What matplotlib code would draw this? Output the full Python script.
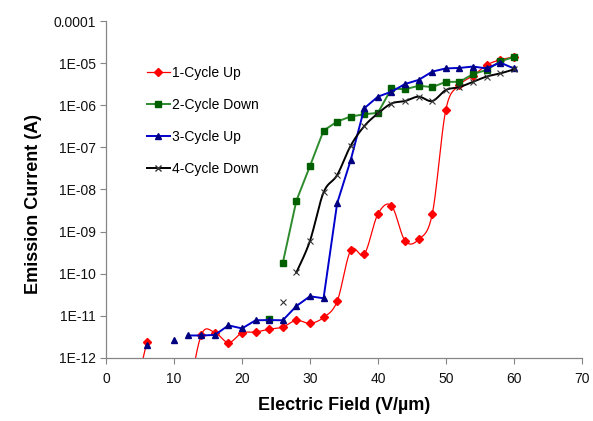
import numpy as np
import matplotlib
matplotlib.use('Agg')
import matplotlib.pyplot as plt
from matplotlib.lines import Line2D
from matplotlib.ticker import FuncFormatter, NullLocator

# data (field in V/um, current in A); nan = break in the line
field_red = [4, 6, 8, 10, 12, 14, 16, 18, 20, 22, 24, 26, 28, 30, 32, 34, 36, 38, 40, 42, 44, 46, 48, 50, 52, 54, 56, 58, 60]
cur_red = [1e-13, 2.4e-12, np.nan, np.nan, 1e-13, 3.5e-12, 4.0e-12, 2.3e-12, 3.9e-12, 4.1e-12, 4.8e-12, 5.4e-12,
           7.8e-12, 6.6e-12, 9.1e-12, 2.2e-11, 3.6e-10, 2.9e-10, 2.6e-9, 4.1e-9, 6.0e-10, 6.5e-10, 2.6e-9,
           7.9e-7, 3.0e-6, 5.0e-6, 9.0e-6, 1.2e-5, 1.4e-5]

field_green = [24, 25, 26, 28, 30, 32, 34, 36, 38, 40, 42, 44, 46, 48, 50, 52, 54, 56, 58, 60]
cur_green = [8.3e-12, np.nan, 1.8e-10, 5.4e-9, 3.6e-8, 2.5e-7, 4.1e-7, 5.4e-7, 6.1e-7, 6.6e-7, 2.5e-6, 2.4e-6,
             2.9e-6, 2.7e-6, 3.6e-6, 3.6e-6, 5.5e-6, 6.9e-6, 1.1e-5, 1.4e-5]

field_blue = [6, 8, 10, 11, 12, 14, 16, 18, 20, 22, 24, 26, 28, 30, 32, 34, 36, 38, 40, 42, 44, 46, 48, 50, 52, 54, 56, 58, 60]
cur_blue = [2.0e-12, np.nan, 2.7e-12, np.nan, 3.4e-12, 3.4e-12, 3.5e-12, 5.9e-12, 5.0e-12, 7.8e-12, 7.9e-12, 7.8e-12,
            1.7e-11, 2.9e-11, 2.6e-11, 4.7e-9, 5.0e-8, 8.5e-7, 1.6e-6, 2.1e-6, 3.2e-6, 4.0e-6, 6.3e-6, 7.5e-6,
            7.7e-6, 8.3e-6, 7.5e-6, 1.03e-5, 7.5e-6]

field_black = [26, 27, 28, 30, 32, 34, 36, 38, 40, 42, 44, 46, 48, 50, 52, 54, 56, 58, 60]
cur_black = [2.1e-11, np.nan, 1.07e-10, 6.0e-10, 8.5e-9, 2.2e-8, 1.1e-7, 3.2e-7, 6.4e-7, 1.1e-6, 1.26e-6, 1.6e-6,
             1.26e-6, 2.3e-6, 2.7e-6, 3.6e-6, 4.8e-6, 5.7e-6, 7.1e-6]

labels = ['1-Cycle Up', '2-Cycle Down', '3-Cycle Up', '4-Cycle Down']


def smooth(xs, ys, n=20):
    # Excel-style smoothed line: Catmull-Rom bezier in (x, log y), per unbroken run
    xs = np.asarray(xs, float); ly = np.log10(np.asarray(ys, float))
    out_x, out_y = [], []
    ok = ~np.isnan(ly)
    idx = np.where(ok)[0]
    runs = np.split(idx, np.where(np.diff(idx) > 1)[0] + 1)
    for r in runs:
        px, py = xs[r], ly[r]
        if len(r) < 2:
            continue
        for k in range(len(r) - 1):
            a, b = max(k - 1, 0), min(k + 2, len(r) - 1)
            c1 = (px[k] + (px[k + 1] - px[a]) / 6, py[k] + (py[k + 1] - py[a]) / 6)
            c2 = (px[k + 1] - (px[b] - px[k]) / 6, py[k + 1] - (py[b] - py[k]) / 6)
            t = np.linspace(0, 1, n)
            bx = (1-t)**3*px[k] + 3*(1-t)**2*t*c1[0] + 3*(1-t)*t**2*c2[0] + t**3*px[k+1]
            by = (1-t)**3*py[k] + 3*(1-t)**2*t*c1[1] + 3*(1-t)*t**2*c2[1] + t**3*py[k+1]
            out_x.extend(bx); out_y.extend(by)
        out_x.append(np.nan); out_y.append(np.nan)
    return np.array(out_x), 10 ** np.array(out_y)


plt.rcParams['font.family'] = ['Liberation Sans', 'DejaVu Sans']
fig = plt.figure(figsize=(5.93, 4.21), dpi=100)
ax = fig.add_axes([0.179, 0.150, 0.802, 0.800])

# 1-Cycle Up (smoothed, red)
sx, sy = smooth(field_red, cur_red)
ax.plot(sx, sy, '-', color='#ff0000', lw=0.9)
ax.plot(field_red, cur_red, 'D', color='#ff0000', ms=4, ls='none')
# 2-Cycle Down
ax.plot(field_green, cur_green, '-s', color='#2e8b2e', mfc='#006000', mec='#006000', ms=4.5, lw=1.4)
# 3-Cycle Up
ax.plot(field_blue, cur_blue, '-^', color='#0000cc', mfc='#000080', mec='#000080', ms=5, lw=1.4)
# 4-Cycle Down (smoothed, black)
sx, sy = smooth(field_black, cur_black)
ax.plot(sx, sy, '-', color='k', lw=1.4)
ax.plot(field_black, cur_black, 'x', color='#333333', ms=5, mew=0.8, ls='none')

ax.set_yscale('log')
ax.set_xlim(0, 70); ax.set_ylim(1e-12, 1e-4)
ax.set_xticks(range(0, 71, 10))
ax.set_yticks([10.0 ** e for e in range(-12, -3)])
ax.yaxis.set_minor_locator(NullLocator())
ax.yaxis.set_major_formatter(FuncFormatter(
    lambda v, p: '0.0001' if round(np.log10(v)) == -4 else f'1E-{-round(np.log10(v)):02d}'))
for s in ('top', 'right'):
    ax.spines[s].set_visible(False)
for s in ('left', 'bottom'):
    ax.spines[s].set_color('#868686'); ax.spines[s].set_linewidth(0.9)
ax.tick_params(axis='both', direction='out', length=4, color='#868686', labelsize=10, labelcolor='#111111')
ax.tick_params(axis='x', pad=6)
ax.set_xlabel('Electric Field (V/µm)', fontsize=13, fontweight='bold', labelpad=8)
ax.set_ylabel('Emission Current (A)', fontsize=13, fontweight='bold', labelpad=8)
ax.yaxis.set_label_coords(-0.135, 0.457)

handles = [
    Line2D([], [], color='#ff0000', lw=0.9, marker='D', ms=4),
    Line2D([], [], color='#2e8b2e', lw=1.4, marker='s', mfc='#006000', mec='#006000', ms=4.5),
    Line2D([], [], color='#0000cc', lw=1.4, marker='^', mfc='#000080', mec='#000080', ms=5),
    Line2D([], [], color='k', lw=1.4, marker='x', mec='#333333', ms=5),
]
ax.legend(handles, labels, loc='upper left', bbox_to_anchor=(0.074, 0.884), frameon=False, fontsize=10,
          handlelength=1.65, handletextpad=0.15, labelspacing=1.3, borderaxespad=0)

fig.savefig('out.png', dpi=100)
